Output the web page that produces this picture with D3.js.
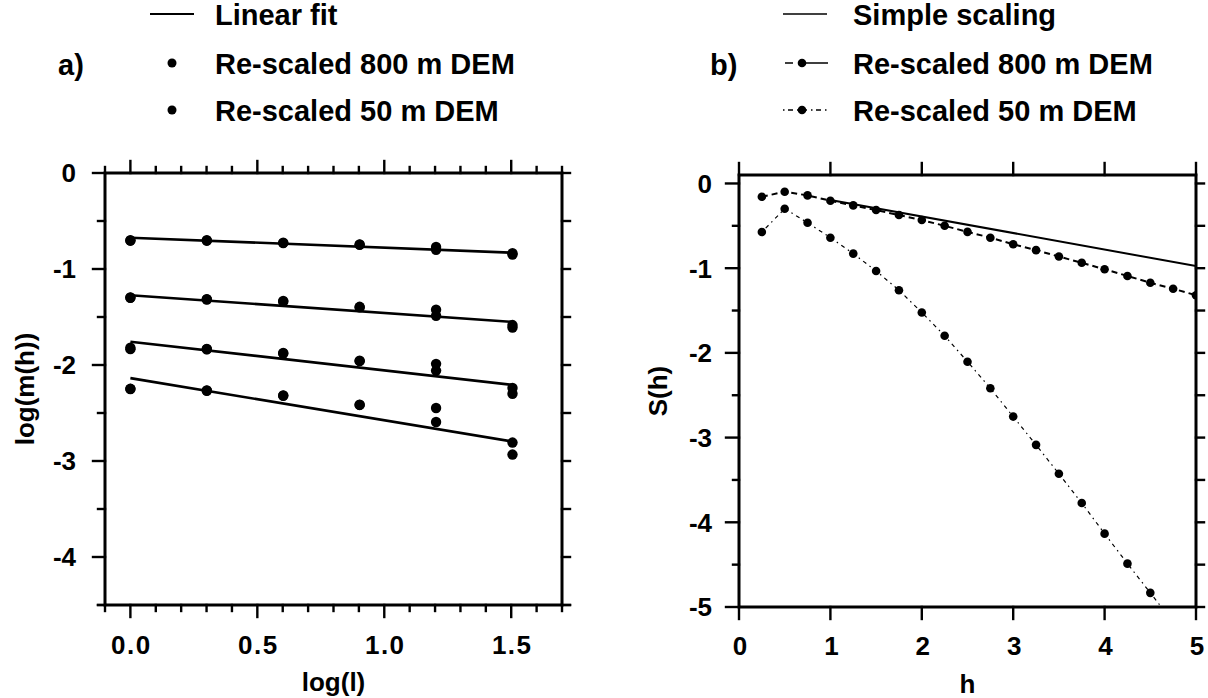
<!DOCTYPE html>
<html>
<head>
<meta charset="utf-8">
<script src="https://cdn.jsdelivr.net/npm/d3@7/dist/d3.min.js"></script>
<style>
  html, body { margin: 0; padding: 0; background: #fff; }
  svg { display: block; }
  text { font-family: "Liberation Sans", Arial, Helvetica, sans-serif; font-weight: bold; fill: #000; }
</style>
</head>
<body>
<svg id="chart" width="1208" height="698"></svg>
<script>
// ---------- Panel a: log(m(h)) versus log(l) ----------
const logL = [0, 0.301, 0.602, 0.903, 1.204, 1.505];

// four moment orders, two re-scaled DEMs
const dem800 = [
  [-0.700, -0.700, -0.726, -0.744, -0.770, -0.835],
  [-1.297, -1.314, -1.332, -1.394, -1.425, -1.584],
  [-1.820, -1.833, -1.875, -1.954, -1.988, -2.240],
  [-2.248, -2.265, -2.317, -2.414, -2.448, -2.808]
];
const dem50 = [
  [-0.705, -0.705, -0.730, -0.748, -0.800, -0.850],
  [-1.300, -1.318, -1.340, -1.400, -1.487, -1.610],
  [-1.835, -1.836, -1.880, -1.960, -2.058, -2.300],
  [-2.250, -2.268, -2.320, -2.416, -2.594, -2.933]
];

// linear fits: intercept and slope for each order
const fitIntercept = [-0.674, -1.273, -1.757, -2.137];
const fitSlope = [-0.104, -0.185, -0.299, -0.439];
const fitRange = [0, 1.5];

const xTicksA = [0.0, 0.5, 1.0, 1.5];
const yTicksA = [0, -1, -2, -3, -4];

// ---------- Panel b: S(h) versus h ----------
const hValues = [0.25, 0.5, 0.75, 1.0, 1.25, 1.5, 1.75, 2.0, 2.25, 2.5,
                 2.75, 3.0, 3.25, 3.5, 3.75, 4.0, 4.25, 4.5, 4.75, 5.0];
const s800 = [-0.157, -0.098, -0.141, -0.204, -0.259, -0.314, -0.373, -0.432, -0.500, -0.571,
              -0.640, -0.718, -0.787, -0.863, -0.936, -1.013, -1.092, -1.172, -1.243, -1.319];
const h50 = [0.25, 0.5, 0.75, 1.0, 1.25, 1.5, 1.75, 2.0, 2.25, 2.5,
             2.75, 3.0, 3.25, 3.5, 3.75, 4.0, 4.25, 4.5, 4.75];
const s50 = [-0.573, -0.298, -0.463, -0.640, -0.828, -1.033, -1.260, -1.523, -1.798, -2.104,
             -2.418, -2.752, -3.086, -3.427, -3.773, -4.134, -4.488, -4.833, -5.180];

// simple scaling: straight line through the h = 1 value
const hScaling = [1, 5];
const sScaling = [-0.195, -0.975];

const xTicksB = [0, 1, 2, 3, 4, 5];
const yTicksB = [0, -1, -2, -3, -4, -5];

const svg = d3.select("#chart");
const TICK_FONT = 26;
const TITLE_FONT = 26;
const LEGEND_FONT = 29;

// helper: custom tick marks on any side of a frame
function tickMarks(g, values, scale, side, len, edge, width) {
  g.selectAll(null).data(values).enter().append("line")
    .attr("x1", d => (side === "top" || side === "bottom") ? scale(d) : edge)
    .attr("x2", d => (side === "top" || side === "bottom") ? scale(d)
                     : edge + (side === "left" ? -len : len))
    .attr("y1", d => (side === "left" || side === "right") ? scale(d) : edge)
    .attr("y2", d => (side === "left" || side === "right") ? scale(d)
                     : edge + (side === "top" ? -len : len))
    .attr("stroke", "#000").attr("stroke-width", width || 2.4)
    .attr("stroke-linecap", "square");
}

// ================= Panel a =================
const xA = d3.scaleLinear().domain([-0.1, 1.7]).range([105, 562]);
const yA = d3.scaleLinear().domain([0, -4.5]).range([173, 605]);
const gA = svg.append("g");

const xMinorA = d3.range(-0.1, 1.7001, 0.1).map(v => +v.toFixed(2));
const xMinorOnlyA = xMinorA.filter(v => !xTicksA.some(t => Math.abs(t - v) < 1e-6));
const yHalfA = d3.range(0, -4.5001, -0.5).map(v => +v.toFixed(2));
const yMinorOnlyA = yHalfA.filter(v => !yTicksA.some(t => Math.abs(t - v) < 1e-6));

tickMarks(gA, xTicksA, xA, "top", 12, yA(0));
tickMarks(gA, xMinorOnlyA, xA, "top", 6, yA(0));
tickMarks(gA, xTicksA, xA, "bottom", 12, yA(-4.5));
tickMarks(gA, xMinorOnlyA, xA, "bottom", 6, yA(-4.5));
tickMarks(gA, yTicksA, yA, "left", 12, xA(-0.1));
tickMarks(gA, yMinorOnlyA.concat([-4.5]), yA, "left", 7, xA(-0.1));
tickMarks(gA, yHalfA.concat([-4.5]), yA, "right", 8, xA(1.7));

gA.append("rect")
  .attr("x", xA(-0.1)).attr("y", yA(0))
  .attr("width", xA(1.7) - xA(-0.1)).attr("height", yA(-4.5) - yA(0))
  .attr("fill", "none").attr("stroke", "#000").attr("stroke-width", 3);

// fit lines
gA.selectAll(".fit").data(fitIntercept).enter().append("line")
  .attr("class", "fit")
  .attr("x1", xA(fitRange[0]))
  .attr("y1", (d, i) => yA(d + fitSlope[i] * fitRange[0]))
  .attr("x2", xA(fitRange[1]))
  .attr("y2", (d, i) => yA(d + fitSlope[i] * fitRange[1]))
  .attr("stroke", "#000").attr("stroke-width", 2.6);

// points of both DEMs
[dem800, dem50].forEach(series => {
  series.forEach(row => {
    gA.selectAll(null).data(row).enter().append("circle")
      .attr("cx", (d, i) => xA(logL[i]))
      .attr("cy", d => yA(d))
      .attr("r", 5.2)
      .attr("fill", "#000");
  });
});

// tick labels
gA.selectAll(null).data(xTicksA).enter().append("text")
  .attr("x", d => xA(d) + 1).attr("y", 654)
  .attr("text-anchor", "middle").attr("font-size", TICK_FONT)
  .attr("letter-spacing", 1.5)
  .text(d => d.toFixed(1));
gA.selectAll(null).data(yTicksA).enter().append("text")
  .attr("x", 76).attr("y", d => yA(d)).attr("dy", "0.36em")
  .attr("text-anchor", "end").attr("font-size", TICK_FONT)
  .text(d => d === 0 ? "0" : String(d));

gA.append("text").attr("x", 333.5).attr("y", 691)
  .attr("text-anchor", "middle").attr("font-size", TITLE_FONT).text("log(l)");
gA.append("text").attr("transform", "translate(34,389) rotate(-90)")
  .attr("text-anchor", "middle").attr("font-size", TITLE_FONT).text("log(m(h))");

// legend a
const legA = svg.append("g");
legA.append("line").attr("x1", 150).attr("x2", 194).attr("y1", 14).attr("y2", 14)
  .attr("stroke", "#000").attr("stroke-width", 2);
legA.append("text").attr("x", 215).attr("y", 25).attr("font-size", LEGEND_FONT).text("Linear fit");
legA.append("circle").attr("cx", 172).attr("cy", 63).attr("r", 4.5).attr("fill", "#000");
legA.append("text").attr("x", 215).attr("y", 74).attr("font-size", LEGEND_FONT).text("Re-scaled 800 m DEM");
legA.append("circle").attr("cx", 172).attr("cy", 110).attr("r", 4.5).attr("fill", "#000");
legA.append("text").attr("x", 215).attr("y", 121).attr("font-size", LEGEND_FONT).text("Re-scaled 50 m DEM");
legA.append("text").attr("x", 58).attr("y", 75).attr("font-size", LEGEND_FONT).text("a)");

// ================= Panel b =================
const xB = d3.scaleLinear().domain([0, 5]).range([739, 1196]);
const yB = d3.scaleLinear().domain([0.1, -5]).range([175, 607]);
const gB = svg.append("g");

const yHalfB = d3.range(0, -5.0001, -0.5).map(v => +v.toFixed(2));
const yMinorOnlyB = yHalfB.filter(v => !yTicksB.some(t => Math.abs(t - v) < 1e-6));

tickMarks(gB, xTicksB, xB, "top", 12, yB(0.1));
tickMarks(gB, xTicksB, xB, "bottom", 12, yB(-5));
tickMarks(gB, yTicksB, yB, "left", 13, xB(0));
tickMarks(gB, yMinorOnlyB, yB, "left", 6, xB(0));
tickMarks(gB, yHalfB, yB, "right", 8, xB(5));

svg.append("defs").append("clipPath").attr("id", "clipB")
  .append("rect")
  .attr("x", xB(0)).attr("y", yB(0.1))
  .attr("width", xB(5) - xB(0)).attr("height", yB(-5) - yB(0.1));

const plotB = gB.append("g").attr("clip-path", "url(#clipB)");

const lineB = d3.line().x(d => xB(d[0])).y(d => yB(d[1]));

plotB.append("path")
  .datum(hScaling.map((h, i) => [h, sScaling[i]]))
  .attr("d", lineB).attr("fill", "none")
  .attr("stroke", "#000").attr("stroke-width", 2);

plotB.append("path")
  .datum(hValues.map((h, i) => [h, s800[i]]))
  .attr("d", lineB).attr("fill", "none")
  .attr("stroke", "#000").attr("stroke-width", 2)
  .attr("stroke-dasharray", "6,4");

plotB.append("path")
  .datum(h50.map((h, i) => [h, s50[i]]))
  .attr("d", lineB).attr("fill", "none")
  .attr("stroke", "#000").attr("stroke-width", 1.2)
  .attr("stroke-dasharray", "1.5,4,4,4");

plotB.selectAll(null).data(s800).enter().append("circle")
  .attr("cx", (d, i) => xB(hValues[i])).attr("cy", d => yB(d))
  .attr("r", 4.3).attr("fill", "#000");
plotB.selectAll(null).data(s50).enter().append("circle")
  .attr("cx", (d, i) => xB(h50[i])).attr("cy", d => yB(d))
  .attr("r", 4.3).attr("fill", "#000");

gB.append("rect")
  .attr("x", xB(0)).attr("y", yB(0.1))
  .attr("width", xB(5) - xB(0)).attr("height", yB(-5) - yB(0.1))
  .attr("fill", "none").attr("stroke", "#000").attr("stroke-width", 3);

gB.selectAll(null).data(xTicksB).enter().append("text")
  .attr("x", d => xB(d) + 1).attr("y", 655)
  .attr("text-anchor", "middle").attr("font-size", TICK_FONT)
  .text(d => String(d));
gB.selectAll(null).data(yTicksB).enter().append("text")
  .attr("x", 712).attr("y", d => yB(d)).attr("dy", "0.36em")
  .attr("text-anchor", "end").attr("font-size", TICK_FONT)
  .text(d => d === 0 ? "0" : String(d));

gB.append("text").attr("x", 967.5).attr("y", 693)
  .attr("text-anchor", "middle").attr("font-size", TITLE_FONT).text("h");
gB.append("text").attr("transform", "translate(667,391) rotate(-90)")
  .attr("text-anchor", "middle").attr("font-size", TITLE_FONT).text("S(h)");

// legend b
const legB = svg.append("g");
legB.append("line").attr("x1", 783).attr("x2", 827).attr("y1", 14).attr("y2", 14)
  .attr("stroke", "#000").attr("stroke-width", 1.6);
legB.append("text").attr("x", 853).attr("y", 25).attr("font-size", LEGEND_FONT).text("Simple scaling");

legB.append("line").attr("x1", 785).attr("x2", 828).attr("y1", 63).attr("y2", 63)
  .attr("stroke", "#000").attr("stroke-width", 1.5)
  .attr("stroke-dasharray", "8,5,40");
legB.append("circle").attr("cx", 802).attr("cy", 63).attr("r", 4.3).attr("fill", "#000");
legB.append("text").attr("x", 853).attr("y", 74).attr("font-size", LEGEND_FONT).text("Re-scaled 800 m DEM");

legB.append("line").attr("x1", 783).attr("x2", 828).attr("y1", 110).attr("y2", 110)
  .attr("stroke", "#000").attr("stroke-width", 1.3)
  .attr("stroke-dasharray", "1.5,3.5,5,4");
legB.append("circle").attr("cx", 802).attr("cy", 110).attr("r", 4.3).attr("fill", "#000");
legB.append("text").attr("x", 853).attr("y", 121).attr("font-size", LEGEND_FONT).text("Re-scaled 50 m DEM");
legB.append("text").attr("x", 710).attr("y", 75).attr("font-size", LEGEND_FONT).text("b)");
</script>
</body>
</html>
